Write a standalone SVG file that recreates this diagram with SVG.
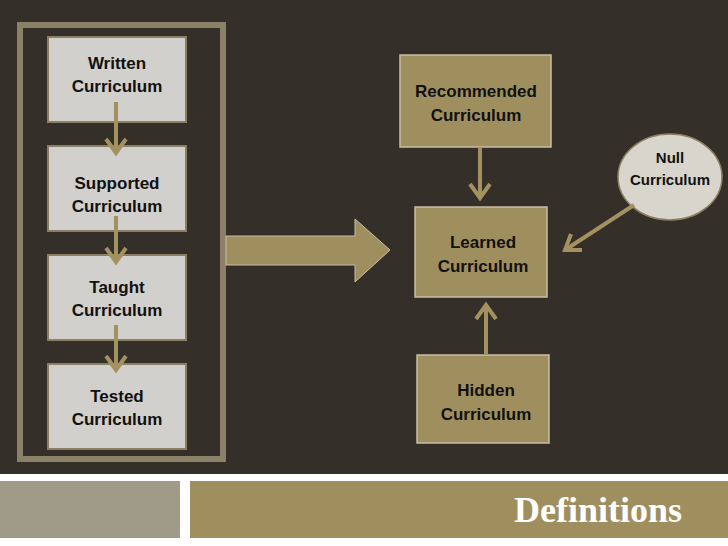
<svg xmlns="http://www.w3.org/2000/svg" width="728" height="546" viewBox="0 0 728 546">
<style>
.lb{fill:#d1d0cc;stroke:#8b7f63;stroke-width:2}
.gb{fill:#a08f5e;stroke:#c7bea4;stroke-width:1.5}
.t{font-family:"Liberation Sans",Arial,sans-serif;font-weight:bold;font-size:17px;fill:#111;text-anchor:middle}
.c{stroke:#a3915f;stroke-width:4;fill:none}
.h{stroke:#a3915f;stroke-width:4;fill:none;stroke-linecap:butt}
</style>
<rect width="728" height="546" fill="#fff"/>
<rect width="728" height="474" fill="#352f2a"/>
<rect x="0" y="481" width="180" height="57" fill="#a09a88"/>
<rect x="190" y="481" width="538" height="57" fill="#a08f5e"/>
<rect x="20" y="25" width="203" height="434" fill="none" stroke="#8b8068" stroke-width="6"/>
<g id="written"><rect class="lb" x="48" y="37" width="138" height="85"/><text class="t" x="117" y="69">Written</text><text class="t" x="117" y="92">Curriculum</text></g>
<g id="supported"><rect class="lb" x="48" y="146" width="138" height="85"/><text class="t" x="117" y="189">Supported</text><text class="t" x="117" y="212">Curriculum</text></g>
<g id="taught"><rect class="lb" x="48" y="255" width="138" height="85"/><text class="t" x="117" y="293">Taught</text><text class="t" x="117" y="316">Curriculum</text></g>
<g id="tested"><rect class="lb" x="48" y="364" width="138" height="85"/><text class="t" x="117" y="402">Tested</text><text class="t" x="117" y="425">Curriculum</text></g>
<g id="recommended"><rect class="gb" x="400" y="55" width="151" height="92"/><text class="t" x="476" y="97">Recommended</text><text class="t" x="476" y="121">Curriculum</text></g>
<g id="learned"><rect class="gb" x="415" y="207" width="132" height="90"/><text class="t" x="483" y="248">Learned</text><text class="t" x="483" y="272">Curriculum</text></g>
<g id="hidden"><rect class="gb" x="417" y="355" width="132" height="88"/><text class="t" x="486" y="396">Hidden</text><text class="t" x="486" y="420">Curriculum</text></g>
<g id="null"><ellipse cx="670" cy="177" rx="52" ry="43" fill="#d8d5cc" stroke="#8b7f63" stroke-width="1.5"/><text class="t" x="670" y="163" style="font-size:15px">Null</text><text class="t" x="670" y="185" style="font-size:15px">Curriculum</text></g>
<g id="connectors">
<line class="c" x1="116" y1="102" x2="116" y2="153"/><path class="h" d="M106 139 L116 153 L126 139"/>
<line class="c" x1="116" y1="216" x2="116" y2="262"/><path class="h" d="M106 248 L116 262 L126 248"/>
<line class="c" x1="116" y1="325" x2="116" y2="370"/><path class="h" d="M106 356 L116 370 L126 356"/>
<line class="c" x1="480" y1="147" x2="480" y2="198"/><path class="h" d="M470 184 L480 198 L490 184"/>
<line class="c" x1="486" y1="355" x2="486" y2="305"/><path class="h" d="M476 319 L486 305 L496 319"/>
<line class="c" x1="634" y1="205" x2="565" y2="250"/><path class="h" d="M571 234 L565 250 L582 250"/>
<path d="M226 236 H355 V219 L390 250 L355 282 V265 H226 Z" fill="#a08f5e" stroke="#c7bea4" stroke-width="1"/>
</g>
<text x="598" y="522" font-family="'Liberation Serif','Times New Roman',serif" font-weight="bold" font-size="36" fill="#fff" text-anchor="middle">Definitions</text>
</svg>
